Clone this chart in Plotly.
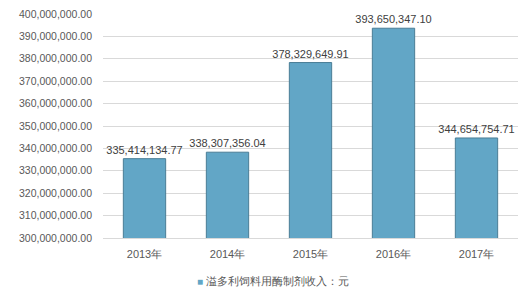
import plotly.graph_objects as go

years = ["2013年", "2014年", "2015年", "2016年", "2017年"]
values = [335414134.77, 338307356.04, 378329649.91, 393650347.10, 344654754.71]
labels = ["335,414,134.77", "338,307,356.04", "378,329,649.91", "393,650,347.10", "344,654,754.71"]
series_name = "溢多利饲料用酶制剂收入：元"
tick_vals = list(range(300000000, 400000001, 10000000))
tick_text = [f"{v:,.2f}" for v in tick_vals]

bar_color = "#62a6c6"
edge_color = "#4a7d96"

fig = go.Figure()
fig.add_trace(go.Bar(
    x=years, y=values, name=series_name, showlegend=False,
    text=labels, textposition="outside", constraintext="none",
    textfont=dict(size=11, color="#404040"),
    marker=dict(color=bar_color, line=dict(color=edge_color, width=1)),
    cliponaxis=False,
))
# legend drawn as a text line below the axis (keeps plot area fixed)
fig.add_annotation(
    xref="paper", yref="paper", x=0.41, y=-0.191, xanchor="center", yanchor="middle",
    showarrow=False,
    text=f"<span style='color:{bar_color};font-size:10px'>■</span> {series_name}",
    font=dict(size=11, color="#595959"),
)
fig.update_layout(
    width=528, height=292,
    margin=dict(l=103, r=10, t=8, b=54),
    plot_bgcolor="white", paper_bgcolor="white",
    font=dict(family="Liberation Sans, Arial, sans-serif", size=10, color="#595959"),
    bargap=0.49,
    showlegend=False,
)
fig.update_yaxes(range=[300000000, 400000000], tickvals=tick_vals, ticktext=tick_text,
                 showgrid=True, gridcolor="#d9d9d9", gridwidth=1, zeroline=False,
                 ticks="", ticklabelstandoff=10, tickfont=dict(size=10.5, color="#595959"))
fig.update_xaxes(type="category", categoryorder="array", categoryarray=years,
                 range=[-0.5, 4.5], tickangle=0,
                 showline=True, linecolor="#d9d9d9", linewidth=1, ticks="",
                 ticklabelstandoff=6, tickfont=dict(size=11, color="#595959"))
fig.write_html("out.html")
